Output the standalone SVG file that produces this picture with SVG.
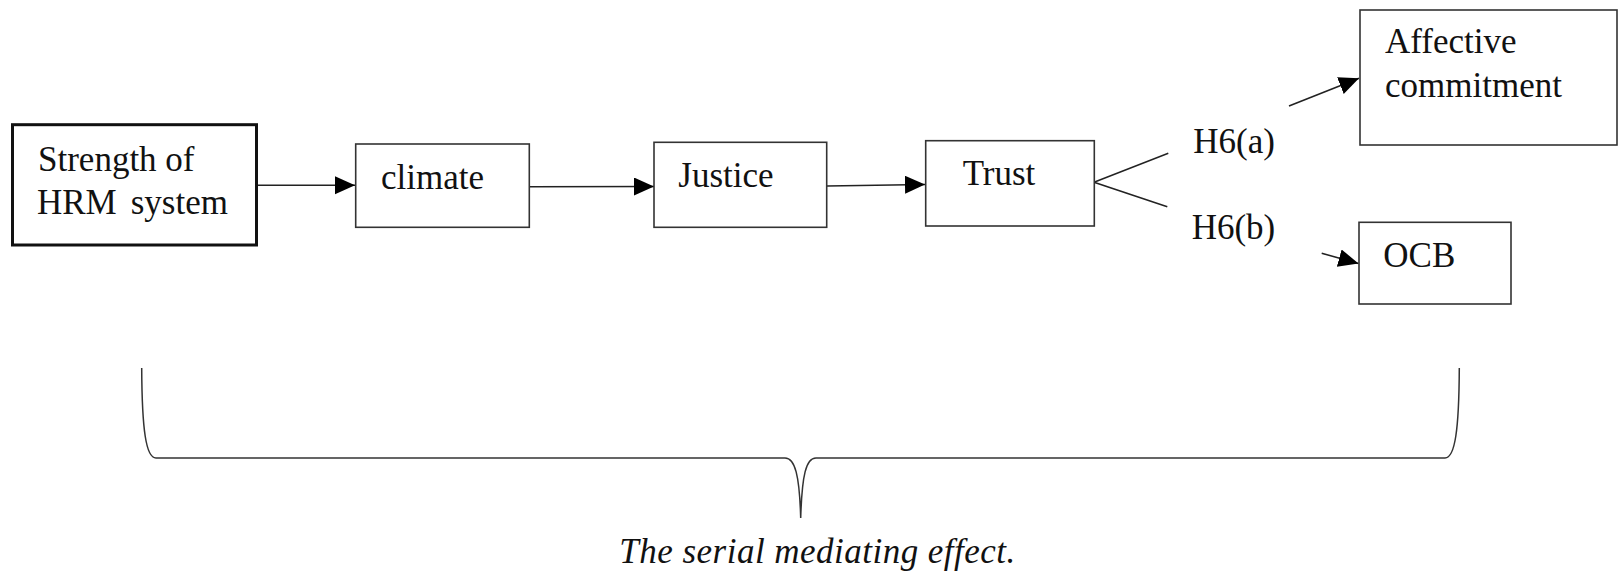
<svg xmlns="http://www.w3.org/2000/svg" width="1618" height="574" viewBox="0 0 1618 574">
<style>
.box{fill:#fff;stroke:#333;stroke-width:1.6}
.thick{fill:#fff;stroke:#111;stroke-width:3}
.t{font-family:"Liberation Serif","Times New Roman",serif;font-size:35px;fill:#111}
.cap{font-family:"Liberation Serif","Times New Roman",serif;font-size:35px;font-style:italic;fill:#111}
.ln{fill:none;stroke:#222;stroke-width:1.6}
.br{fill:none;stroke:#333;stroke-width:1.5}
</style>
<defs>
<marker id="ah" markerUnits="userSpaceOnUse" markerWidth="22" markerHeight="20" refX="20" refY="9" orient="auto">
<path d="M0,0 L20,9 L0,18 Z" fill="#000"/>
</marker>
</defs>
<rect width="1618" height="574" fill="#fff"/>
<g id="connectors">
<line class="ln" x1="257" y1="185.3" x2="355" y2="185.3" marker-end="url(#ah)"/>
<line class="ln" x1="529" y1="186.7" x2="654" y2="186.5" marker-end="url(#ah)"/>
<line class="ln" x1="827" y1="186" x2="925" y2="184.5" marker-end="url(#ah)"/>
<line class="ln" x1="1094" y1="182.3" x2="1168.3" y2="153.3"/>
<line class="ln" x1="1094" y1="182.3" x2="1167.3" y2="206.7"/>
<line class="ln" x1="1289" y1="106" x2="1359" y2="78.3" marker-end="url(#ah)"/>
<line class="ln" x1="1321.7" y1="253.3" x2="1358.5" y2="263.5" marker-end="url(#ah)"/>
</g>
<g id="node-hrm">
<rect class="thick" x="12.5" y="124.7" width="244" height="120.3"/>
<text class="t" x="38" y="171">Strength of</text>
<text class="t" x="37" y="214">HRM<tspan x="130.7">system</tspan></text>
</g>
<g id="node-climate">
<rect class="box" x="355.7" y="144" width="173.6" height="83.3"/>
<text class="t" x="381" y="189">climate</text>
</g>
<g id="node-justice">
<rect class="box" x="654" y="142.3" width="172.7" height="85"/>
<text class="t" x="678.3" y="186.7">Justice</text>
</g>
<g id="node-trust">
<rect class="box" x="925.7" y="140.7" width="168.6" height="85.3"/>
<text class="t" x="962.7" y="185">Trust</text>
</g>
<g id="label-h6a">
<text class="t" x="1193.3" y="152.7">H6(a)</text>
</g>
<g id="label-h6b">
<text class="t" x="1191.7" y="239.3">H6(b)</text>
</g>
<g id="node-affective">
<rect class="box" x="1360" y="10" width="257" height="135"/>
<text class="t" x="1385" y="53.3">Affective</text>
<text class="t" x="1385" y="96.7">commitment</text>
</g>
<g id="node-ocb">
<rect class="box" x="1359" y="222.3" width="152" height="81.7"/>
<text class="t" x="1383.3" y="267.3">OCB</text>
</g>
<g id="brace">
<path class="br" d="M141.7,368 C142,430 146,458 156,458 L785,458 C795,458 799.5,475 800.7,518 C802,475 806,458 816,458 L1445,458 C1455,458 1459,430 1459.3,368"/>
<text class="cap" x="619.3" y="562.7" textLength="396" lengthAdjust="spacing">The serial mediating effect.</text>
</g>
</svg>
